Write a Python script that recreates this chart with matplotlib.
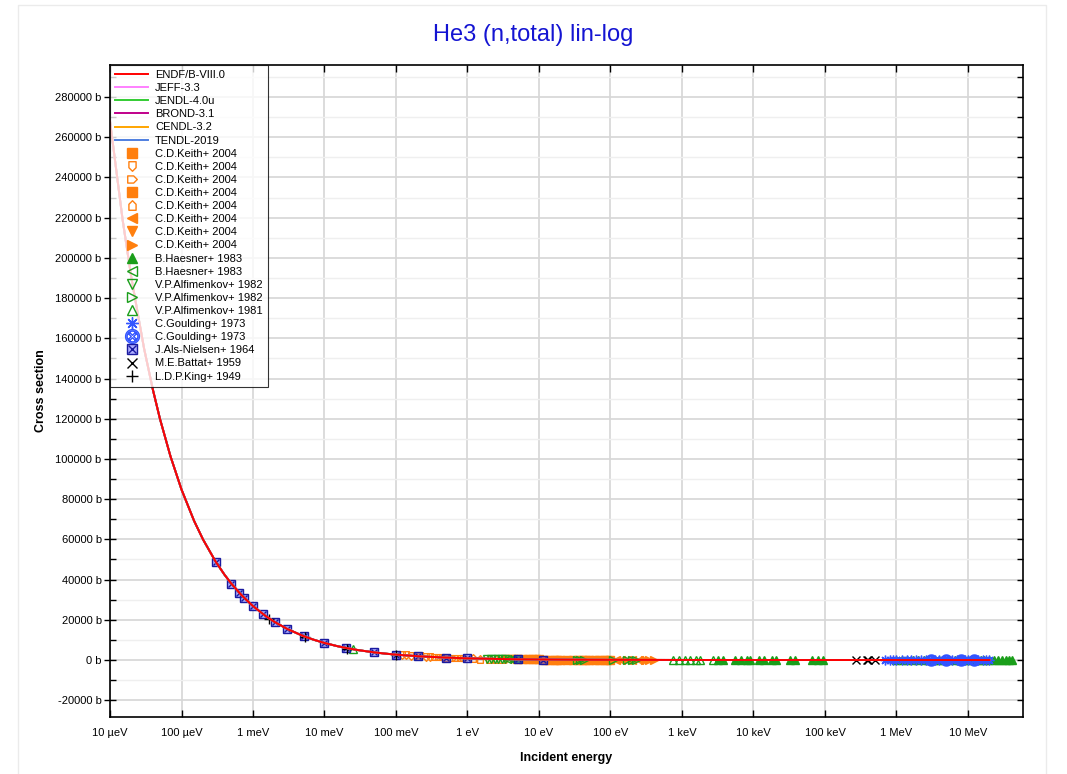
import matplotlib
matplotlib.use('Agg')
import numpy as np
from matplotlib import pyplot as plt
from matplotlib.ticker import FixedLocator, MultipleLocator, FuncFormatter, NullLocator
from matplotlib.patches import Rectangle
from matplotlib.path import Path
from matplotlib.legend_handler import HandlerTuple

plt.rcParams['font.family'] = ['Liberation Sans', 'DejaVu Sans']

# evaluated curve (eV, barn)
eval_e = [1e-5, 1.5e-5, 2e-5, 3e-5, 4e-5, 5e-5, 7e-5, 1e-4, 1.5e-4, 2e-4, 3e-4, 4e-4,
          5e-4, 7e-4, 1e-3, 1.5e-3, 2e-3, 3e-3, 5e-3, 7e-3, 1e-2, 1.5e-2, 2e-2, 3e-2,
          5e-2, 7e-2, 0.1, 0.2, 0.5, 1, 2, 5, 10, 30, 100, 300, 1e3, 1e4, 1e5, 1e6,
          5e6, 1e7, 2e7]
eval_xs = [268000, 219000, 189600, 154800, 134100, 119900, 101400, 84800, 69200, 59960,
           48960, 42400, 37920, 32050, 26820, 21900, 18960, 15480, 11990, 10140, 8480,
           6925, 5997, 4897, 3793, 3206, 2682, 1896, 1200, 848, 600, 380, 269, 156, 86,
           50, 28, 10, 4.5, 2.9, 2.3, 1.9, 1.6]

libs = ['JEFF-3.3', 'JENDL-4.0u', 'BROND-3.1', 'CENDL-3.2', 'TENDL-2019']
lib_colors = ['#ff80ff', '#33cc33', '#c0008a', '#ffa500', '#4f7fe0']

# C.D.Keith+ 2004 (8 subsets)
keith_e = [
    [5, 6, 7, 8, 9, 10, 12, 14, 16, 18, 20, 25],
    [0.12, 0.14, 0.16, 0.19, 0.22, 0.26, 0.3],
    [0.35, 0.4, 0.45, 0.5, 0.6, 0.7, 0.8, 0.9],
    [30, 35, 40, 45, 50, 60, 70, 80, 90, 100],
    [1.2, 1.5, 2, 2.5, 3],
    [120, 140, 170, 200, 250],
    [3.5, 4, 4.5],
    [300, 350, 400],
]
keith_xs = [
    [380, 347, 321, 300, 283, 268, 245, 227, 212, 200, 190, 170],
    [2450, 2270, 2120, 1950, 1810, 1660, 1550],
    [1430, 1340, 1265, 1200, 1095, 1015, 950, 895],
    [156, 144, 135, 127, 120, 110, 102, 95, 90, 85],
    [775, 690, 600, 535, 490],
    [78, 72, 66, 60, 54],
    [453, 424, 400],
    [49, 45, 42],
]

# shield / house shaped markers
shield_down = Path([(-0.45, 0.6), (0.45, 0.6), (0.45, -0.15), (0, -0.6), (-0.45, -0.15),
                    (-0.45, 0.6)], closed=True)
shield_right = Path([(-0.6, 0.45), (0.15, 0.45), (0.6, 0), (0.15, -0.45), (-0.6, -0.45),
                     (-0.6, 0.45)], closed=True)
house_up = Path([(-0.45, -0.6), (0.45, -0.6), (0.45, 0.15), (0, 0.6), (-0.45, 0.15),
                 (-0.45, -0.6)], closed=True)
keith_markers = ['s', shield_down, shield_right, 's', house_up, '<', 'v', '>']
keith_filled = [True, False, False, True, False, True, True, True]

haesner1_e = [3.2e3, 3.8e3, 5.5e3, 6.6e3, 8.2e3, 9.0e3, 1.2e4, 1.4e4, 1.8e4, 2.1e4, 3.2e4,
              3.8e4, 6.6e4, 8.0e4, 9.3e4,
              1.0e6, 1.2e6, 1.4e6, 1.7e6, 2.0e6, 2.4e6, 2.8e6, 3.3e6, 4.0e6, 4.7e6, 5.5e6,
              6.5e6, 7.5e6, 8.5e6, 1.0e7, 1.15e7, 1.3e7, 1.5e7, 1.7e7, 2.0e7, 2.3e7, 2.6e7,
              3.0e7, 3.4e7, 3.8e7, 4.1e7]
haesner1_xs = [22, 21, 18, 17, 15, 14, 12.5, 12, 11, 10.5, 9, 8.5, 7, 6.5, 6,
               2.9, 2.8, 2.7, 2.6, 2.5, 2.4, 2.3, 2.2, 2.1, 2.0, 1.9, 1.8, 1.75, 1.7, 1.6,
               1.55, 1.5, 1.45, 1.4, 1.35, 1.3, 1.25, 1.2, 1.15, 1.1, 1.05]
haesner2_e = [3.6, 4.0, 4.4, 4.9]
haesner2_xs = [445, 424, 404, 383]
alf82a_e = [1.9, 2.1, 2.4, 2.7, 3.0, 3.3]
alf82a_xs = [615, 585, 548, 516, 490, 467]
alf82b_e = [34, 38, 42, 107, 170, 200, 230]
alf82b_xs = [146, 138, 131, 82, 65, 60, 56]
alf81_e = [0.025, 740, 900, 1100, 1300, 1550, 1800, 2700]
alf81_xs = [5330, 31, 28, 26, 24, 22, 20, 16]

goulding1_e = [7e5, 8e5, 9e5, 1.0e6, 1.2e6, 1.4e6, 1.6e6, 1.9e6, 2.2e6, 2.6e6, 3.0e6, 3.5e6,
               4.0e6, 4.6e6, 5.3e6, 6.0e6, 7.0e6, 8.0e6, 9.0e6, 1.0e7, 1.2e7, 1.4e7, 1.6e7,
               1.8e7, 2.0e7]
goulding1_xs = [3.0, 3.0, 2.95, 2.9, 2.8, 2.7, 2.65, 2.55, 2.5, 2.4, 2.3, 2.2, 2.1, 2.05,
                1.95, 1.9, 1.8, 1.75, 1.7, 1.6, 1.55, 1.5, 1.45, 1.4, 1.35]
goulding2_e = [3e6, 5e6, 8e6, 1.2e7]
goulding2_xs = [2.3, 2.0, 1.75, 1.55]

als_e = [3.0e-4, 5.0e-4, 6.4e-4, 7.6e-4, 1.0e-3, 1.4e-3, 2.0e-3, 3.0e-3, 5.2e-3, 1.0e-2,
         2.0e-2, 5.0e-2, 0.1, 0.2, 0.5, 1.0, 5.1, 11.5]
als_xs = [48900, 37900, 33500, 30800, 26800, 22700, 19000, 15500, 11800, 8500, 6000, 3800,
          2700, 1900, 1200, 850, 375, 250]
battat_e = [2.7e5, 3.9e5, 4.0e5, 5.0e5]
battat_xs = [3.5, 3.4, 3.4, 3.2]
king_e = [1.7e-3, 5.3e-3, 2.05e-2, 0.1]
king_xs = [20300, 11600, 5470, 2700]

tick_e = [1e-5, 1e-4, 1e-3, 1e-2, 1e-1, 1, 10, 100, 1e3, 1e4, 1e5, 1e6, 1e7]
tick_labels = ['10 µeV', '100 µeV', '1 meV', '10 meV', '100 meV', '1 eV', '10 eV', '100 eV',
               '1 keV', '10 keV', '100 keV', '1 MeV', '10 MeV']

fig = plt.figure(figsize=(10.67, 7.74), dpi=100)
ax = fig.add_axes([0.1031, 0.0736, 0.8557, 0.8424])
fig.patches.append(Rectangle((0.0169, -0.01), 0.963, 1.0035, transform=fig.transFigure,
                             fill=False, edgecolor='#ebebeb', lw=1))

orange = '#ff7f0e'
green = '#1a9e1a'
ms = 5.5
handles = []

# evaluated lines (drawn on top of data)
ln, = ax.plot(eval_e, eval_xs, color='red', lw=1.4, zorder=10, label='ENDF/B-VIII.0')
handles.append(ln)
for name, c in zip(libs, lib_colors):
    l, = ax.plot(eval_e, eval_xs, color=c, lw=1.4, zorder=5, label=name)
    handles.append(l)

for e, s, m, f in zip(keith_e, keith_xs, keith_markers, keith_filled):
    h, = ax.plot(e, s, ls='none', marker=m, ms=ms, mec=orange,
                 mfc=orange if f else 'none', mew=1, label='C.D.Keith+ 2004')
    handles.append(h)

def pts(e, s, m, c, filled, label, size=ms):
    h, = ax.plot(e, s, ls='none', marker=m, ms=size, mec=c,
                 mfc=c if filled else 'none', mew=1, label=label)
    handles.append(h)

pts(haesner1_e, haesner1_xs, '^', green, True, 'B.Haesner+ 1983')
pts(haesner2_e, haesner2_xs, '<', green, False, 'B.Haesner+ 1983')
pts(alf82a_e, alf82a_xs, 'v', green, False, 'V.P.Alfimenkov+ 1982')
pts(alf82b_e, alf82b_xs, '>', green, False, 'V.P.Alfimenkov+ 1982')
pts(alf81_e, alf81_xs, '^', green, False, 'V.P.Alfimenkov+ 1981')
pts(goulding1_e, goulding1_xs, (8, 2, 0), '#3355ff', False, 'C.Goulding+ 1973', 7)
pts(goulding2_e, goulding2_xs, r'$\otimes$', '#3355ff', False, 'C.Goulding+ 1973', 8)

a1, = ax.plot(als_e, als_xs, ls='none', marker='s', ms=6, mec='#1a1aa0',
              mfc=(0.3, 0.3, 1.0, 0.45), mew=1)
a2, = ax.plot(als_e, als_xs, ls='none', marker='x', ms=5, mec='#1a1aa0', mew=1)
handles.append((a1, a2))
pts(battat_e, battat_xs, 'x', 'black', False, 'M.E.Battat+ 1959')
pts(king_e, king_xs, '+', 'black', False, 'L.D.P.King+ 1949', 7)

labels = [h.get_label() if not isinstance(h, tuple) else 'J.Als-Nielsen+ 1964' for h in handles]
leg = ax.legend(handles, labels, loc='upper left', borderaxespad=0, fontsize=8,
                frameon=True, fancybox=False, edgecolor='black', framealpha=0.8,
                handlelength=3.0, labelspacing=0.28, borderpad=0.45, markerscale=1.25,
                handletextpad=0.6,
                handler_map={tuple: HandlerTuple(ndivide=1, pad=0)})
leg.get_frame().set_linewidth(0.8)
leg.set_zorder(20)

ax.set_xscale('log')
ax.set_xlim(1e-5, 5.9e7)
ax.set_ylim(-28350, 295900)

ax.xaxis.set_major_locator(FixedLocator(tick_e))
ax.xaxis.set_minor_locator(NullLocator())
ax.set_xticklabels(tick_labels)
ax.yaxis.set_major_locator(MultipleLocator(20000))
ax.yaxis.set_minor_locator(MultipleLocator(10000))
ax.yaxis.set_major_formatter(FuncFormatter(lambda v, p: f'{int(round(v))} b'))

ax.tick_params(axis='x', which='major', direction='in', length=5, width=1, top=True,
               labelsize=8, pad=8)
ax.tick_params(axis='y', which='major', direction='inout', length=8, width=1, right=False,
               labelsize=8, pad=2)
ax.tick_params(axis='y', which='minor', direction='in', length=4, width=1, right=False)

# right side ticks, pointing inward
ax2 = ax.twinx()
ax2.set_ylim(ax.get_ylim())
ax2.yaxis.set_major_locator(MultipleLocator(10000))
ax2.yaxis.set_minor_locator(NullLocator())
ax2.tick_params(axis='y', direction='in', length=4, width=1, labelright=False)
for sp in ax2.spines.values():
    sp.set_visible(False)

ax.grid(which='major', axis='both', color='#d6d6d6', lw=1.2)
ax.grid(which='minor', axis='y', color='#efefef', lw=1.0)
ax.set_axisbelow(True)
for sp in ax.spines.values():
    sp.set_linewidth(1.2)

fig.text(0.5, 0.955, 'He3 (n,total) lin-log', color='#1414d2', fontsize=17,
         ha='center', va='center')
ax.set_xlabel('Incident energy', fontsize=9, fontweight='bold', labelpad=10)
ax.set_ylabel('Cross section', fontsize=9, fontweight='bold', labelpad=6)

fig.savefig('out.png', dpi=100)
